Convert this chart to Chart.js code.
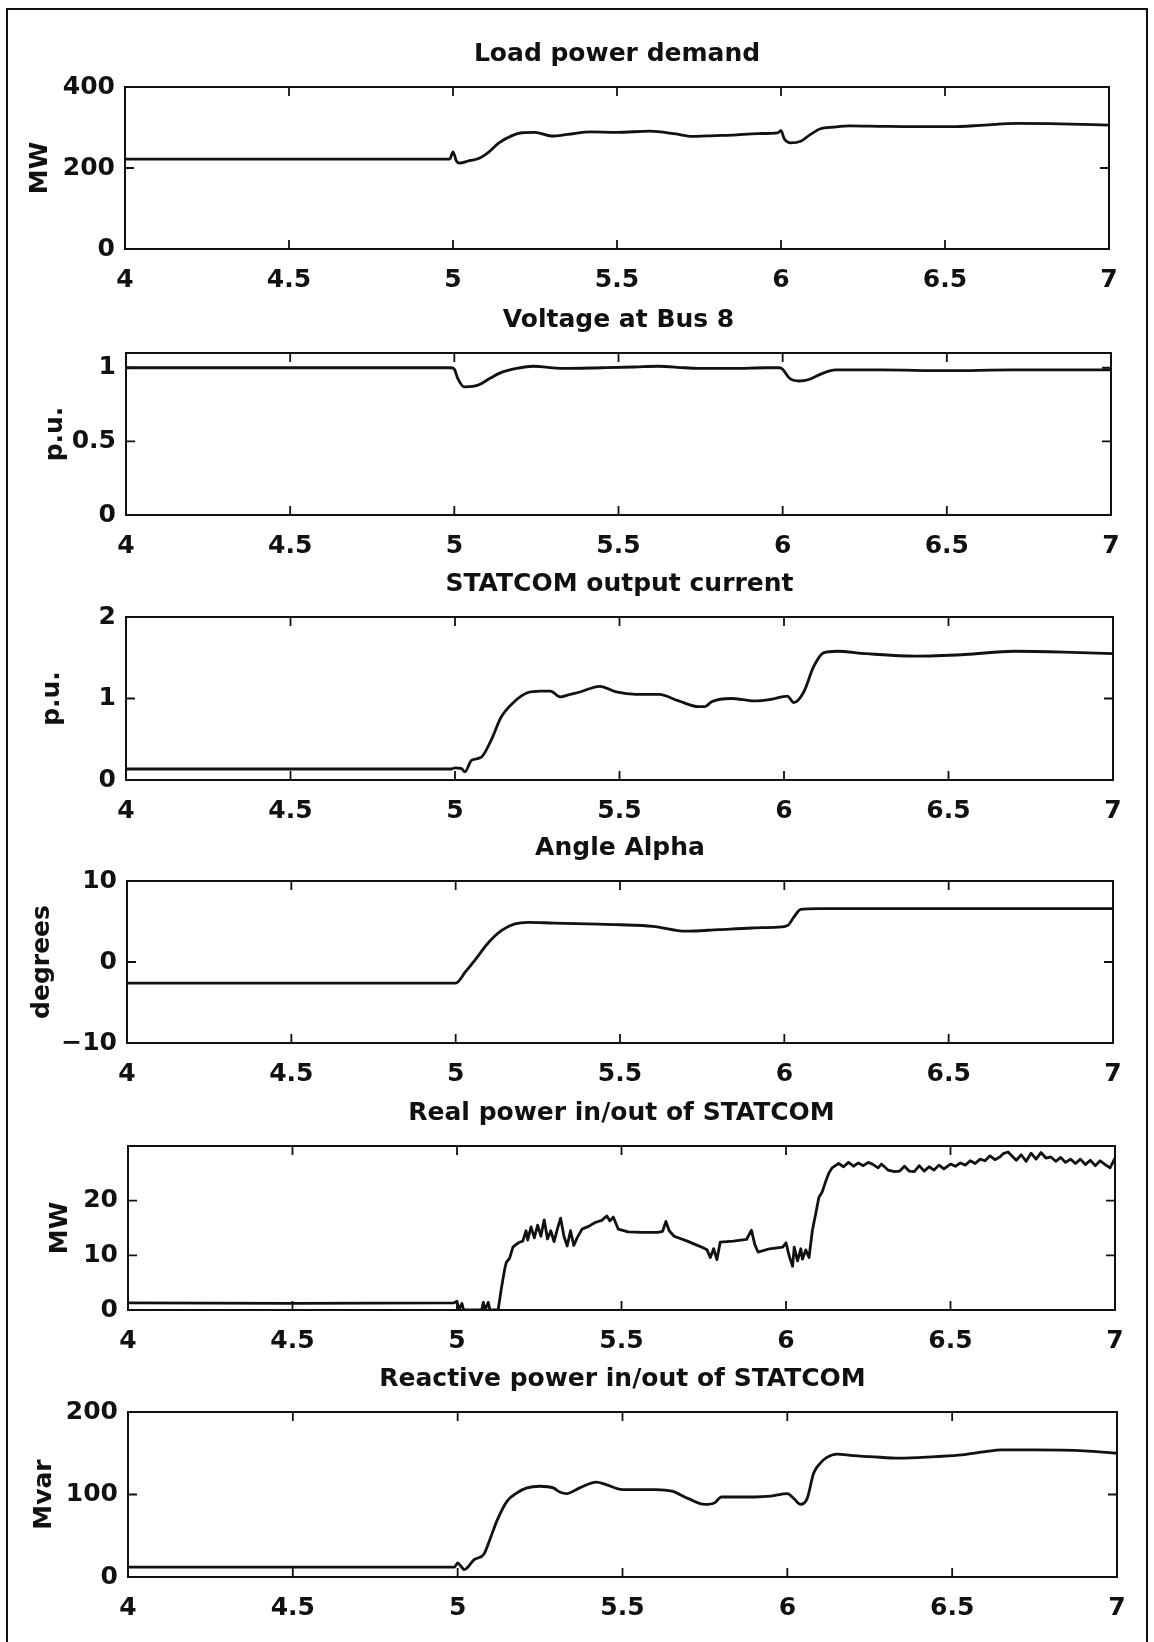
<!DOCTYPE html>
<html><head><meta charset="utf-8">
<script src="https://cdn.jsdelivr.net/npm/chart.js@4/dist/chart.umd.min.js"></script>
<style>
html,body{margin:0;padding:0;background:#fff;width:1154px;height:1642px;overflow:hidden;}
#frame{position:absolute;left:6px;top:8px;width:1142px;height:1660px;border:2.5px solid #111;box-sizing:border-box;}
canvas{position:absolute;left:0;}
</style></head>
<body><div id="frame"></div><div id="wrap"></div>
<script>
// ---- data ----
const xTicks = [4, 4.5, 5, 5.5, 6, 6.5, 7];

const titles = ["Load power demand", "Voltage at Bus 8", "STATCOM output current", "Angle Alpha", "Real power in/out of STATCOM", "Reactive power in/out of STATCOM"];
const yTitles = ["MW", "p.u.", "p.u.", "degrees", "MW", "Mvar"];

const yTicks1 = [0, 200, 400];
const yTicks2 = [0, 0.5, 1];
const yTicks3 = [0, 1, 2];
const yTicks4 = [-10, 0, 10];
const yTicks5 = [0, 10, 20];
const yTicks6 = [0, 100, 200];

const loadT  = [4.0, 4.99, 5.0, 5.01, 5.02, 5.05, 5.08, 5.11, 5.14, 5.18, 5.21, 5.25, 5.30, 5.35, 5.42, 5.5, 5.6, 5.68, 5.73, 5.8, 5.85, 5.93, 5.99, 6.0, 6.01, 6.03, 6.06, 6.09, 6.12, 6.16, 6.21, 6.3, 6.4, 6.52, 6.62, 6.72, 6.85, 7.0];
const loadMW = [222, 222, 240, 218, 212, 218, 224, 240, 262, 280, 287, 288, 279, 283, 289, 288, 291, 284, 278, 280, 281, 285, 287, 292, 272, 262, 266, 283, 297, 301, 304, 303, 302, 302, 306, 310, 309, 306];

const voltT = [4.0, 4.99, 5.0, 5.01, 5.03, 5.06, 5.08, 5.11, 5.14, 5.19, 5.24, 5.33, 5.45, 5.55, 5.62, 5.7, 5.75, 5.85, 5.95, 5.99, 6.0, 6.02, 6.05, 6.08, 6.12, 6.16, 6.3, 6.5, 6.7, 6.9, 7.0];
const voltPU = [1.0, 1.0, 0.99, 0.93, 0.87, 0.875, 0.89, 0.93, 0.965, 0.995, 1.01, 0.995, 1.0, 1.005, 1.01, 1.0, 0.995, 0.995, 1.0, 1.0, 0.99, 0.93, 0.91, 0.92, 0.96, 0.985, 0.985, 0.98, 0.985, 0.985, 0.985];

const curT  = [4.0, 4.99, 5.0, 5.02, 5.03, 5.05, 5.08, 5.11, 5.14, 5.18, 5.22, 5.26, 5.29, 5.32, 5.35, 5.38, 5.44, 5.49, 5.55, 5.62, 5.68, 5.74, 5.76, 5.78, 5.84, 5.91, 5.96, 6.01, 6.03, 6.06, 6.09, 6.12, 6.16, 6.25, 6.4, 6.55, 6.7, 6.85, 7.0];
const curPU = [0.135, 0.135, 0.15, 0.14, 0.10, 0.24, 0.28, 0.49, 0.77, 0.96, 1.07, 1.09, 1.09, 1.02, 1.05, 1.08, 1.15, 1.08, 1.05, 1.05, 0.97, 0.90, 0.90, 0.96, 1.0, 0.97, 0.99, 1.03, 0.95, 1.08, 1.39, 1.56, 1.58, 1.55, 1.52, 1.54, 1.58, 1.57, 1.55];

const alphaT   = [4.0, 5.0, 5.03, 5.06, 5.1, 5.14, 5.18, 5.22, 5.3, 5.4, 5.5, 5.6, 5.7, 5.8, 5.9, 5.98, 6.01, 6.03, 6.05, 6.1, 6.3, 6.5, 6.7, 7.0];
const alphaDeg = [-2.6, -2.6, -1.2, 0.3, 2.4, 3.9, 4.7, 4.9, 4.8, 4.7, 4.6, 4.4, 3.8, 4.0, 4.2, 4.3, 4.5, 5.6, 6.5, 6.6, 6.6, 6.6, 6.6, 6.6];

const realT = [4.0, 4.5, 4.99, 5.0, 5.005, 5.015, 5.02, 5.075, 5.08, 5.085, 5.095, 5.10, 5.125, 5.135, 5.145, 5.15, 5.16, 5.17, 5.18, 5.19, 5.20, 5.21, 5.215, 5.225, 5.235, 5.245, 5.255, 5.265, 5.275, 5.285, 5.295, 5.305, 5.315, 5.325, 5.335, 5.345, 5.355, 5.365, 5.38, 5.40, 5.42, 5.44, 5.455, 5.465, 5.475, 5.49, 5.52, 5.56, 5.61, 5.625, 5.635, 5.645, 5.66, 5.70, 5.74, 5.76, 5.77, 5.78, 5.79, 5.80, 5.84, 5.88, 5.895, 5.905, 5.915, 5.95, 5.99, 6.0, 6.01, 6.02, 6.025, 6.035, 6.045, 6.05, 6.06, 6.07, 6.08, 6.09, 6.10, 6.11, 6.12, 6.13, 6.14, 6.15, 6.16, 6.175, 6.19, 6.205, 6.22, 6.235, 6.25, 6.265, 6.28, 6.29, 6.31, 6.33, 6.345, 6.36, 6.375, 6.39, 6.405, 6.42, 6.435, 6.45, 6.465, 6.48, 6.50, 6.515, 6.53, 6.545, 6.56, 6.575, 6.59, 6.605, 6.62, 6.635, 6.65, 6.66, 6.675, 6.69, 6.70, 6.715, 6.73, 6.745, 6.76, 6.775, 6.79, 6.805, 6.82, 6.835, 6.85, 6.865, 6.88, 6.895, 6.91, 6.925, 6.94, 6.955, 6.97, 6.985, 7.0];
const realMW = [1.3, 1.2, 1.3, 1.6, 0, 1.2, 0, 0, 1.4, 0, 1.4, 0, 0, 4, 7.5, 8.7, 9.5, 11.5, 12, 12.4, 12.6, 14.5, 12.8, 15.2, 13.2, 15.5, 13.5, 16.5, 13.0, 14.5, 12.5, 14.8, 16.8, 13.5, 11.7, 14.5, 11.8, 13.2, 14.8, 15.3, 16.0, 16.4, 17.2, 16.3, 17.0, 14.8, 14.3, 14.2, 14.2, 14.4, 16.2, 14.5, 13.5, 12.6, 11.6, 11.0, 9.6, 11.2, 9.2, 12.4, 12.6, 12.9, 14.6, 12.0, 10.6, 11.2, 11.5, 12.3, 9.8, 8.0, 11.5, 9.0, 11.2, 9.3, 11.0, 9.6, 14.5, 17.5, 20.6, 21.6, 23.4, 25.0, 26.0, 26.4, 26.8, 26.2, 27.0, 26.3, 26.9, 26.4, 27.0, 26.6, 26.0, 26.7, 25.6, 25.3, 25.4, 26.3, 25.4, 25.3, 26.4, 25.4, 26.2, 25.6, 26.5, 25.8, 26.7, 26.3, 26.9, 26.5, 27.3, 26.8, 27.6, 27.3, 28.2, 27.5, 28.0, 28.6, 28.9, 28.0, 27.4, 28.4, 27.2, 28.7, 27.6, 28.8, 27.8, 28.0, 27.2, 27.9, 27.0, 27.6, 26.8, 27.6, 26.6, 27.4, 26.4, 27.3, 26.6, 26.0, 27.8];

const reactT    = [4.0, 4.99, 5.0, 5.01, 5.02, 5.05, 5.08, 5.10, 5.12, 5.15, 5.18, 5.21, 5.25, 5.29, 5.31, 5.33, 5.37, 5.42, 5.45, 5.5, 5.6, 5.65, 5.7, 5.75, 5.78, 5.8, 5.85, 5.9, 5.95, 6.0, 6.02, 6.04, 6.06, 6.08, 6.1, 6.12, 6.15, 6.2, 6.25, 6.34, 6.45, 6.53, 6.6, 6.65, 6.75, 6.9, 7.0];
const reactMvar = [12, 12, 17, 13, 9, 21, 28, 48, 69, 92, 102, 108, 110, 108, 103, 101, 108, 115, 112, 106, 106, 104, 95, 88, 90, 97, 97, 97, 98, 101, 95, 88, 95, 126, 138, 145, 149, 147, 146, 144, 146, 148, 152, 154, 154, 153, 150];

// ---- layout (positions / styles) ----
const FONT = '"DejaVu Sans", "Liberation Sans", sans-serif';
const FSIZE = 25;
const INK = '#111';
const PAD_TOP = 50, X_AXIS_H = 50;
const panels = [
  {L:125, R:1109, T:87,   B:249,  min:0,   max:400, yt:yTicks1, tx:40, xs:loadT,  ys:loadMW,   smooth:true},
  {L:126, R:1111, T:353,  B:515,  min:0,   max:1.1, yt:yTicks2, tx:55, xs:voltT,  ys:voltPU,   smooth:true},
  {L:126, R:1113, T:617,  B:780,  min:0,   max:2,   yt:yTicks3, tx:52, xs:curT,   ys:curPU,    smooth:true},
  {L:127, R:1113, T:881,  B:1043, min:-10, max:10,  yt:yTicks4, tx:42, xs:alphaT, ys:alphaDeg, smooth:true},
  {L:128, R:1115, T:1146, B:1310, min:0,   max:30,  yt:yTicks5, tx:60, xs:realT,  ys:realMW,   smooth:false},
  {L:128, R:1117, T:1412, B:1577, min:0,   max:200, yt:yTicks6, tx:44, xs:reactT, ys:reactMvar, smooth:true}
];

const boxPlugin = {
  id: 'matbox',
  afterDraw(chart, args, opts) {
    const {ctx, chartArea: a, scales} = chart;
    const x = scales.x, y = scales.y;
    ctx.save();
    ctx.strokeStyle = INK;
    ctx.lineWidth = 2;
    ctx.strokeRect(a.left, a.top, a.right - a.left, a.bottom - a.top);
    ctx.lineWidth = 1.8;
    const tl = 9;
    ctx.beginPath();
    x.ticks.forEach(t => {
      const px = x.getPixelForValue(t.value);
      ctx.moveTo(px, a.bottom); ctx.lineTo(px, a.bottom - tl);
      ctx.moveTo(px, a.top); ctx.lineTo(px, a.top + tl);
    });
    y.ticks.forEach(t => {
      const py = y.getPixelForValue(t.value);
      ctx.moveTo(a.left, py); ctx.lineTo(a.left + tl, py);
      ctx.moveTo(a.right, py); ctx.lineTo(a.right - tl, py);
    });
    ctx.stroke();
    ctx.font = 'bold ' + FSIZE + 'px ' + FONT;
    ctx.fillStyle = INK;
    ctx.textAlign = 'center';
    ctx.textBaseline = 'middle';
    ctx.fillText(opts.text, (a.left + a.right) / 2, a.top - 33);
    ctx.restore();
  }
};

const wrap = document.getElementById('wrap');
panels.forEach((p, i) => {
  const cv = document.createElement('canvas');
  const h = PAD_TOP + (p.B - p.T) + X_AXIS_H;
  cv.width = 1154; cv.height = h;
  cv.style.top = (p.T - PAD_TOP) + 'px';
  cv.style.width = '1154px'; cv.style.height = h + 'px';
  wrap.appendChild(cv);
  new Chart(cv.getContext('2d'), {
    type: 'line',
    data: {
      datasets: [{
        data: p.xs.map((xv, k) => ({x: xv, y: p.ys[k]})),
        borderColor: INK,
        borderWidth: 2.8,
        pointRadius: 0,
        fill: false,
        tension: 0,
        cubicInterpolationMode: p.smooth ? 'monotone' : 'default',
        borderJoinStyle: 'round',
        borderCapStyle: 'round'
      }]
    },
    options: {
      responsive: false,
      animation: false,
      events: [],
      layout: {padding: {left: 0, right: 1154 - p.R, top: PAD_TOP, bottom: 0}},
      plugins: {
        legend: {display: false},
        tooltip: {enabled: false},
        title: {display: false},
        matbox: {text: titles[i]}
      },
      scales: {
        x: {
          type: 'linear', min: 4, max: 7,
          grid: {display: false, drawTicks: false},
          border: {display: false},
          afterBuildTicks: s => { s.ticks = xTicks.map(v => ({value: v})); },
          afterFit: s => { s.height = X_AXIS_H; },
          ticks: {
            autoSkip: false, maxRotation: 0, padding: 16,
            color: INK, font: {family: FONT, size: FSIZE, weight: 'bold'},
            callback: v => String(v)
          }
        },
        y: {
          type: 'linear', min: p.min, max: p.max,
          grid: {display: false, drawTicks: false},
          border: {display: false},
          afterBuildTicks: s => { s.ticks = p.yt.map(v => ({value: v})); },
          afterFit: s => { s.width = p.L; },
          ticks: {
            padding: 10, color: INK, font: {family: FONT, size: FSIZE, weight: 'bold'},
            callback: v => String(v).replace('-', '\u2212')
          },
          title: {
            display: true, text: yTitles[i], color: INK,
            font: {family: FONT, size: FSIZE, weight: 'bold'},
            padding: {top: p.tx - 15, bottom: 0}
          }
        }
      }
    },
    plugins: [boxPlugin]
  });
});
</script>
</body></html>
